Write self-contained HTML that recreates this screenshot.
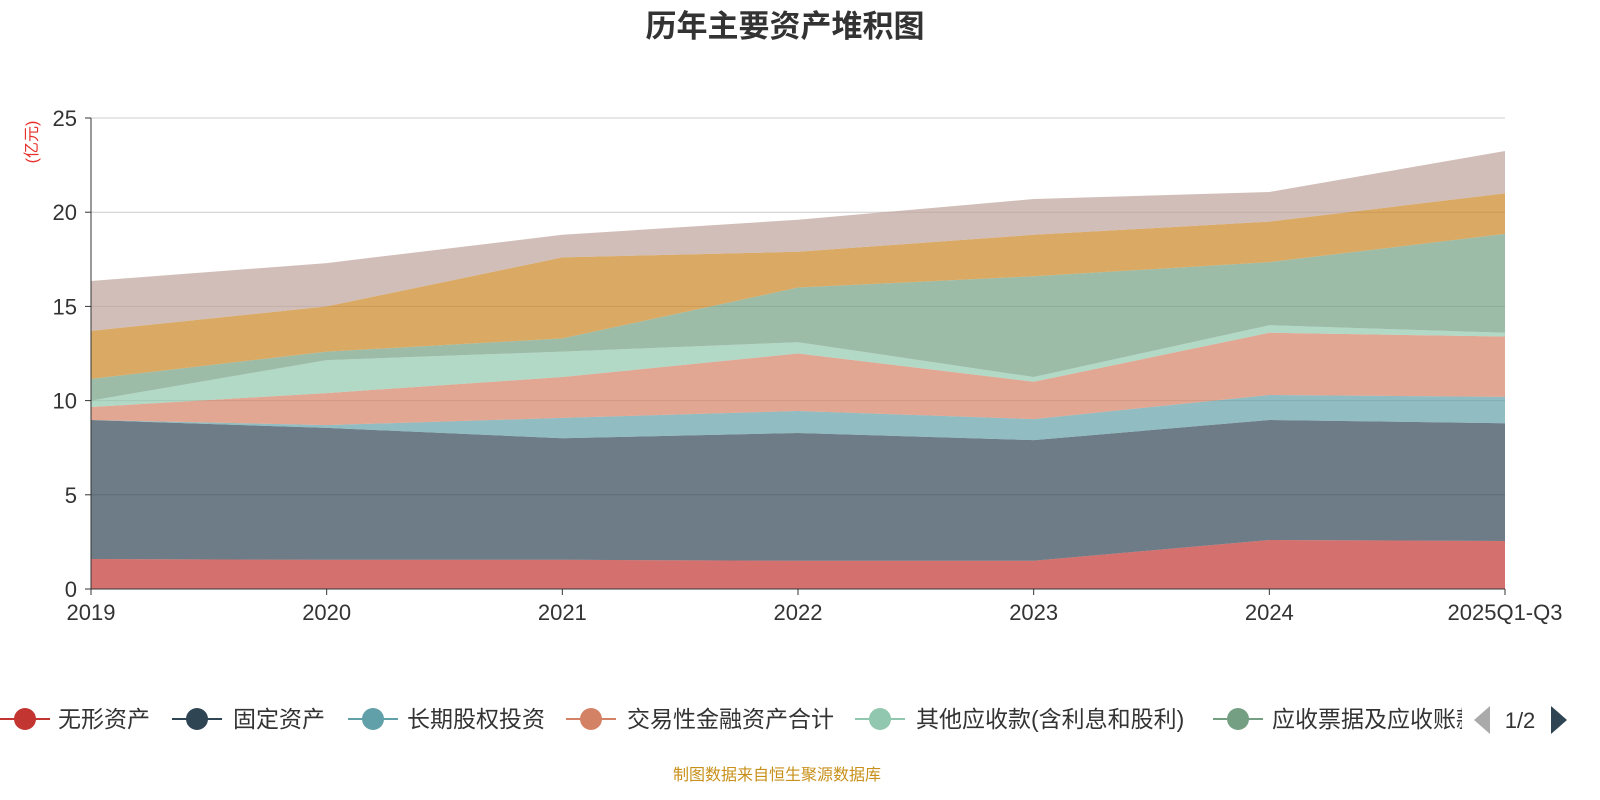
<!DOCTYPE html>
<html><head><meta charset="utf-8"><style>
body{margin:0;background:#fff;}
svg{display:block;font-family:"Liberation Sans","Noto Sans CJK SC",sans-serif;}
</style></head><body>
<svg id="chart" width="1600" height="800" viewBox="0 0 1600 800" xmlns="http://www.w3.org/2000/svg">
<defs><clipPath id="lc"><rect x="0" y="690" width="1462" height="60"/></clipPath></defs>
<text x="785" y="37" text-anchor="middle" font-size="31" font-weight="bold" fill="#333">历年主要资产堆积图</text>
<text transform="translate(37,142) rotate(-90)" text-anchor="middle" font-size="16" fill="#e8302a">(亿元)</text>
<g id="grid"></g><g id="areas"></g><g id="axes"></g><g id="legend"></g>
<text x="777" y="780" text-anchor="middle" font-size="16" fill="#c8901a">制图数据来自恒生聚源数据库</text>
</svg>
<script>
const categories=["2019","2020","2021","2022","2023","2024","2025Q1-Q3"];
const seriesNames=["无形资产","固定资产","长期股权投资","交易性金融资产合计","其他应收款(含利息和股利)","应收票据及应收账款","存货","其他"];
const s1=[1.59,1.55,1.55,1.5,1.5,2.6,2.55];
const s2=[7.38,7.0,6.45,6.78,6.4,6.37,6.25];
const s3=[0.0,0.15,1.08,1.17,1.12,1.33,1.4];
const s4=[0.69,1.7,2.17,3.05,1.98,3.3,3.2];
const s5=[0.34,1.75,1.35,0.6,0.25,0.4,0.2];
const s6=[1.15,0.45,0.7,2.9,5.35,3.35,5.25];
const s7=[2.55,2.4,4.3,1.9,2.2,2.15,2.15];
const s8=[2.65,2.3,1.2,1.7,1.9,1.57,2.25];
const yTicks=[0,5,10,15,20,25];
const colors=["#c23531","#2f4554","#61a0a8","#d48265","#91c7ae","#749f83","#ca8622","#bda29a"];
const all=[s1,s2,s3,s4,s5,s6,s7,s8];
const NS="http://www.w3.org/2000/svg";
const X0=91,X1=1505,Y0=589,Y1=118,YMAX=25;
const xs=i=>X0+(X1-X0)*i/(categories.length-1);
const ys=v=>Y0-(Y0-Y1)*v/YMAX;
function mk(t,a,p){const e=document.createElementNS(NS,t);for(const k in a)e.setAttribute(k,a[k]);p.appendChild(e);return e;}
const grid=document.getElementById('grid'),areas=document.getElementById('areas'),axes=document.getElementById('axes'),legend=document.getElementById('legend');
yTicks.forEach(t=>{
 if(t>0){const l=mk('line',{x1:X0,x2:X1,y1:ys(t),y2:ys(t),stroke:'#ccc','stroke-width':1},grid);
 
 }
 const tx=mk('text',{x:X0-14,y:ys(t)+8,'text-anchor':'end','font-size':22,fill:'#333'},axes);tx.textContent=t;
 
 
 const tk=mk('line',{x1:X0-6,x2:X0,y1:ys(t),y2:ys(t),stroke:'#333'},axes);
 
 
});
let base=categories.map(()=>0);
all.forEach((s,k)=>{
 const top=base.map((b,i)=>b+s[i]);
 let d='M'+top.map((v,i)=>xs(i)+','+ys(v)).join('L');
 for(let i=base.length-1;i>=0;i--)d+='L'+xs(i)+','+ys(base[i]);
 const p=mk('path',{d:d+'Z',fill:colors[k],'fill-opacity':0.7},areas);
 
 
 base=top;
});
const ax=mk('line',{x1:X0,x2:X0,y1:Y1,y2:Y0,stroke:'#333'},axes);


const bx=mk('line',{x1:X0,x2:X1,y1:Y0,y2:Y0,stroke:'#333'},axes);


categories.forEach((c,i)=>{
 const tk=mk('line',{x1:xs(i),x2:xs(i),y1:Y0,y2:Y0+6,stroke:'#333'},axes);
 
 
 const t=mk('text',{x:xs(i),y:Y0+31,'text-anchor':'middle','font-size':22,fill:'#333'},axes);t.textContent=c;
 
 
});
const lx=[25,197,373,591,880,1238],tx=[58,233,407,627,916,1272];
const lg=mk('g',{'clip-path':'url(#lc)'},legend);


for(let k=0;k<6;k++){
 const g=mk('g',{},lg);
 
 
 mk('line',{x1:lx[k]-25,x2:lx[k]+25,y1:719,y2:719,stroke:colors[k],'stroke-width':2},g);
 mk('circle',{cx:lx[k],cy:719,r:11,fill:colors[k]},g);
 const t=mk('text',{x:tx[k],y:727,'font-size':23,fill:'#333'},g);t.textContent=seriesNames[k];
}
const pl=mk('path',{d:'M1490,706L1474,720L1490,734Z',fill:'#aaa'},legend);


const pt=mk('text',{x:1520,y:728,'text-anchor':'middle','font-size':22,fill:'#333'},legend);pt.textContent='1/2';


const pn=mk('path',{d:'M1551,706L1567,720L1551,734Z',fill:'#2f4554'},legend);


</script>
</body></html>
